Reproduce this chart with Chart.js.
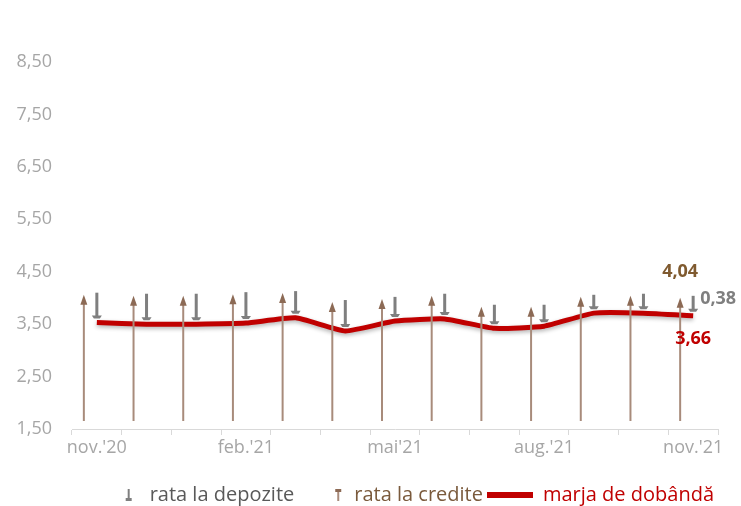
<!DOCTYPE html>
<html>
<head>
<meta charset="utf-8">
<script src="https://cdn.jsdelivr.net/npm/chart.js@4.4.1/dist/chart.umd.min.js"></script>
<style>
  html, body { margin: 0; padding: 0; background: #fff; }
  #wrap { width: 741px; height: 506px; }
</style>
</head>
<body>
<div id="wrap"><canvas id="myChart" width="741" height="506"></canvas></div>
<script>
const months = ["nov.'20", "dec.'20", "ian.'21", "feb.'21", "mar.'21", "apr.'21", "mai'21",
                "iun.'21", "iul.'21", "aug.'21", "sep.'21", "oct.'21", "nov.'21"];
// rata la credite (varful sagetii maro)
const creditRate = [4.10, 4.08, 4.08, 4.11, 4.13, 3.96, 4.02, 4.08, 3.87, 3.87, 4.06, 4.08, 4.04];
// rata la depozite (lungimea sagetii gri)
const depositRate = [0.57, 0.58, 0.58, 0.59, 0.51, 0.59, 0.46, 0.48, 0.45, 0.41, 0.35, 0.37, 0.38];
// marja de dobanda
const margin = [3.53, 3.50, 3.50, 3.52, 3.62, 3.37, 3.56, 3.60, 3.42, 3.46, 3.71, 3.71, 3.66];
const yTicks = [1.5, 2.5, 3.5, 4.5, 5.5, 6.5, 7.5, 8.5];

const brown = '#a88b7b';
const brownDark = '#8c6a55';
const grey = '#7f7f7f';
const red = '#c00000';
const fmt = v => v.toFixed(2).replace('.', ',');

// legend icons, as wide as the legend box so the symbol can sit where it should
const BOX = 46;
function icon(h, draw) {
  const c = document.createElement('canvas');
  c.width = BOX; c.height = h;
  draw(c.getContext('2d'));
  return c;
}
const depIcon = icon(12, c => {
  c.fillStyle = grey;
  c.fillRect(34, 0, 2, 10);
  c.fillRect(32, 9, 6, 3);
});
const credIcon = icon(12, c => {
  c.fillStyle = brown;
  c.fillRect(39, 2, 2, 10);
  c.fillStyle = brownDark;
  c.fillRect(37, 0, 6, 3);
});
const lineIcon = icon(6, c => {
  c.fillStyle = red;
  c.fillRect(0, 0, BOX, 6);
});

const arrowsPlugin = {
  id: 'arrows',
  afterDatasetsDraw(chart) {
    const ctx = chart.ctx;
    const x = chart.scales.x, y = chart.scales.y;
    const base = y.getPixelForValue(1.5) - 8;
    ctx.save();
    months.forEach((m, i) => {
      const cx = x.getPixelForValue(i);
      // credit arrow
      const bx = cx - 13;
      const top = y.getPixelForValue(creditRate[i]) + 2;
      ctx.strokeStyle = brown;
      ctx.lineWidth = 2;
      ctx.beginPath();
      ctx.moveTo(bx, base);
      ctx.lineTo(bx, top + 6);
      ctx.stroke();
      ctx.fillStyle = brownDark;
      ctx.beginPath();
      ctx.moveTo(bx, top);
      ctx.lineTo(bx - 3.5, top + 10);
      ctx.lineTo(bx + 3.5, top + 10);
      ctx.closePath();
      ctx.fill();
      // deposit arrow: from credit rate down to margin
      const dTop = y.getPixelForValue(margin[i] + depositRate[i]);
      const dBot = y.getPixelForValue(margin[i]) - 4;
      ctx.fillStyle = grey;
      ctx.fillRect(cx - 1.5, dTop, 3, dBot - dTop - 2);
      ctx.beginPath();
      ctx.moveTo(cx - 5, dBot - 3);
      ctx.lineTo(cx + 5, dBot - 3);
      ctx.lineTo(cx + 3, dBot);
      ctx.lineTo(cx - 3, dBot);
      ctx.closePath();
      ctx.fill();
    });
    // labels for the last month
    const n = months.length - 1;
    const lx = x.getPixelForValue(n);
    ctx.font = 'bold 18px "Open Sans", sans-serif';
    ctx.textBaseline = 'middle';
    ctx.textAlign = 'center';
    ctx.fillStyle = '#7f5a2f';
    ctx.fillText(fmt(creditRate[n]), lx - 13, y.getPixelForValue(creditRate[n]) - 24);
    ctx.fillStyle = red;
    ctx.fillText(fmt(margin[n]), lx, y.getPixelForValue(margin[n]) + 23);
    ctx.textAlign = 'left';
    ctx.fillStyle = grey;
    ctx.fillText(fmt(depositRate[n]), lx + 7, y.getPixelForValue(margin[n] + depositRate[n] / 2) - 7);
    ctx.restore();
  }
};

const shadowPlugin = {
  id: 'shadow',
  beforeDatasetDraw(chart, args) {
    if (args.index === 2) {
      chart.ctx.save();
      chart.ctx.shadowColor = 'rgba(0,0,0,0.3)';
      chart.ctx.shadowBlur = 4;
      chart.ctx.shadowOffsetY = 2;
    }
  },
  afterDatasetDraw(chart, args) {
    if (args.index === 2) chart.ctx.restore();
  }
};

const legendStyles = [
  { img: depIcon, color: '#595959' },
  { img: credIcon, color: '#7a5a3c' },
  { img: lineIcon, color: red }
];

const ctx = document.getElementById('myChart');
const myChart = new Chart(ctx, {
  type: 'line',
  data: {
    labels: months,
    datasets: [{
      label: 'rata la depozite',
      data: depositRate,
      showLine: false,
      pointRadius: 0,
      borderColor: grey
    }, {
      label: 'rata la credite',
      data: creditRate,
      showLine: false,
      pointRadius: 0,
      borderColor: brown
    }, {
      label: 'marja de dobândă',
      data: margin,
      borderColor: red,
      borderWidth: 5,
      pointRadius: 0,
      tension: 0.15,
      fill: false
    }]
  },
  options: {
    responsive: false,
    animation: false,
    layout: { padding: { top: 62, right: 23, left: 4, bottom: -9 } },
    plugins: {
      tooltip: { enabled: false },
      legend: {
        position: 'bottom',
        align: 'end',
        labels: {
          usePointStyle: true,
          pointStyleWidth: BOX,
          padding: 4,
          font: { family: '"Open Sans", sans-serif', size: 20 },
          generateLabels(chart) {
            return chart.data.datasets.map((ds, i) => ({
              text: ds.label,
              pointStyle: legendStyles[i].img,
              fontColor: legendStyles[i].color,
              datasetIndex: i,
              hidden: false,
              lineWidth: 0
            }));
          }
        }
      }
    },
    scales: {
      x: {
        offset: true,
        afterFit: s => { s.height = 52; },
        grid: { display: true, drawOnChartArea: false, tickLength: 6, color: '#d9d9d9', offset: true },
        border: { color: '#d9d9d9' },
        ticks: {
          autoSkip: false,
          maxRotation: 0,
          padding: 2,
          color: '#a6a6a6',
          font: { family: '"Open Sans", sans-serif', size: 18 },
          callback: (v, i) => (i % 3 === 0 ? months[i] : '')
        }
      },
      y: {
        min: 1.5,
        max: 8.5,
        afterBuildTicks: s => { s.ticks = yTicks.map(v => ({ value: v })); },
        afterFit: s => { s.width = 68; },
        grid: { display: false, drawTicks: false },
        border: { display: false },
        ticks: {
          padding: 20,
          color: '#a6a6a6',
          font: { family: '"Open Sans", sans-serif', size: 18 },
          callback: v => fmt(v)
        }
      }
    }
  },
  plugins: [arrowsPlugin, shadowPlugin]
});
</script>
</body>
</html>
